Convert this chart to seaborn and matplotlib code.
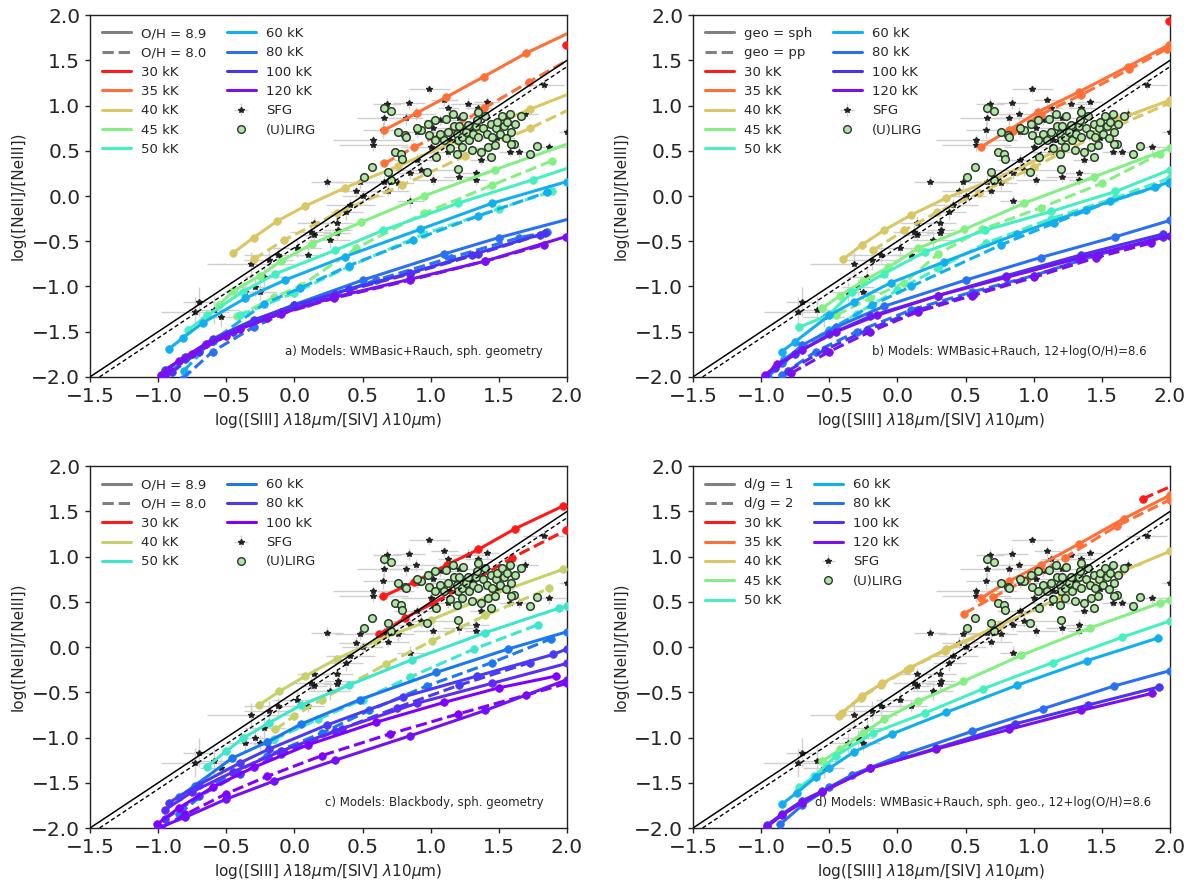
import matplotlib
matplotlib.use("Agg")
import matplotlib.pyplot as plt
from matplotlib.lines import Line2D
import seaborn as sns

# Style
sns.set_style("ticks")
plt.rcParams['font.family'] = ['DejaVu Sans']
plt.rcParams['mathtext.fontset'] = 'dejavusans'

# ---------------------------------------------------------------------------
# Observations (same in every panel)
sfg_x = [0.68, 0.84, 0.99, 1.10, 1.13, 1.27, 1.35, 1.41, 0.89, 0.66, 0.65, 0.58, 0.58, 0.82,
         0.90, 1.02, 1.00, 1.13, 0.90, 0.85, 0.93, 1.02, 0.76, 0.66, 0.48, 0.45, 0.69, 0.85,
         0.24, 0.50, 0.41, 0.38, 0.31, 0.32, 0.31, 0.26, 0.14, 0.12, 0.14, 0.02, 0.10, -0.12,
         -0.19, -0.32, -0.22, -0.29, -0.25, -0.36, -0.59, -0.73, -0.54, -0.70, 1.33, 1.21, 1.33,
         1.49, 1.65, 1.87, 1.83, 2.00, 1.41, 1.21, 1.07, 1.14, 1.37, 1.44, 1.58, 1.69]
sfg_y = [1.02, 1.03, 1.18, 1.06, 0.97, 1.02, 0.97, 1.04, 0.91, 0.86, 0.73, 0.62, 0.56, 0.86,
         0.71, 0.75, 0.54, 0.49, 0.40, 0.25, 0.29, 0.18, 0.14, 0.16, 0.15, 0.05, 0.06, -0.06,
         0.16, 0.00, -0.10, -0.18, -0.30, -0.38, -0.41, -0.49, -0.30, -0.40, -0.43, -0.58, -0.65, -0.65,
         -0.71, -0.75, -0.89, -1.01, -1.06, -1.06, -1.26, -1.28, -1.34, -1.17, 0.25, 0.21, 0.18,
         0.64, 0.49, 0.54, 1.23, 0.71, 0.53, 0.86, 0.84, 0.62, 0.40, 0.65, 0.49, 0.91]
sfg_xerr = [0.10, 0.12, 0.15, 0.10, 0.08, 0.12, 0.10, 0.09, 0.15, 0.20, 0.15, 0.30, 0.25, 0.12,
            0.18, 0.12, 0.22, 0.15, 0.17, 0.12, 0.25, 0.15, 0.12, 0.15, 0.18, 0.12, 0.15, 0.10,
            0.12, 0.15, 0.18, 0.12, 0.12, 0.10, 0.10, 0.15, 0.12, 0.15, 0.10, 0.18, 0.12, 0.25,
            0.18, 0.32, 0.15, 0.12, 0.12, 0.15, 0.18, 0.25, 0.15, 0.12, 0.10, 0.12, 0.08,
            0.12, 0.10, 0.12, 0.15, 0.06, 0.10, 0.10, 0.12, 0.10, 0.08, 0.10, 0.08, 0.10]
sfg_yerr = [0.06, 0.07, 0.05, 0.06, 0.06, 0.06, 0.05, 0.06, 0.07, 0.08, 0.09, 0.06, 0.06, 0.07,
            0.06, 0.07, 0.06, 0.06, 0.07, 0.06, 0.07, 0.06, 0.07, 0.06, 0.07, 0.06, 0.06, 0.07,
            0.06, 0.07, 0.07, 0.08, 0.07, 0.06, 0.07, 0.09, 0.07, 0.07, 0.06, 0.09, 0.07, 0.09,
            0.11, 0.13, 0.11, 0.09, 0.09, 0.11, 0.16, 0.16, 0.11, 0.16, 0.06, 0.06, 0.06,
            0.06, 0.06, 0.06, 0.06, 0.06, 0.05, 0.06, 0.06, 0.05, 0.06, 0.05, 0.05, 0.06]

lirg_x = [0.66, 0.71, 0.76, 0.81, 0.74, 0.78, 0.79, 0.57, 0.51, 0.69, 0.71, 0.97, 0.98, 0.99,
          1.03, 1.07, 1.10, 1.11, 1.13, 1.16, 1.17, 1.19, 1.20, 1.21, 1.23, 1.24, 1.26, 1.27,
          1.28, 1.30, 1.31, 1.33, 1.34, 1.35, 1.37, 1.38, 1.40, 1.41, 1.42, 1.44, 1.45, 1.47,
          1.48, 1.49, 1.51, 1.52, 1.54, 1.55, 1.56, 1.58, 1.59, 1.61, 1.62, 1.66, 1.14, 1.19,
          1.23, 1.44, 1.35, 0.93, 1.03, 1.04, 1.73, 1.78, 1.59, 1.20, 0.90, 0.82]
lirg_y = [0.97, 0.94, 0.71, 0.67, 0.49, 0.47, 0.41, 0.32, 0.21, 0.27, 0.18, 0.27, 0.80, 0.67,
          0.84, 0.69, 0.62, 0.85, 0.71, 0.91, 0.77, 0.69, 0.62, 0.77, 0.65, 0.89, 0.71, 0.78,
          0.62, 0.51, 0.69, 0.77, 0.84, 0.65, 0.49, 0.75, 0.88, 0.69, 0.54, 0.80, 0.65, 0.56,
          0.75, 0.82, 0.69, 0.88, 0.77, 0.64, 0.82, 0.91, 0.71, 0.58, 0.80, 0.88, 0.53, 0.47,
          0.54, 0.43, 0.93, 0.73, 0.62, 0.43, 0.46, 0.55, 0.57, 0.30, 0.75, 0.65]

# one-to-one reference lines
ref_solid = ([-1.5, 2.0], [-2.0, 1.5])
ref_dashed = ([-1.43, 2.0], [-2.0, 1.43])

# ---------------------------------------------------------------------------
# Panel a: WMBasic+Rauch, spherical; solid O/H=8.9, dashed O/H=8.0
a30_s = ([1.99, 2.3], [1.67, 1.9])
a35_s = ([0.66, 0.90, 1.11, 1.39, 1.70, 2.05], [0.73, 0.92, 1.09, 1.32, 1.58, 1.83])
a35_d = ([0.66, 0.88, 1.16, 1.39, 1.72, 2.05], [0.36, 0.54, 0.75, 0.97, 1.26, 1.54])
a40_s = ([-0.45, -0.30, -0.13, 0.08, 0.37, 0.76, 1.19, 1.73, 2.05], [-0.63, -0.46, -0.28, -0.11, 0.09, 0.33, 0.61, 0.96, 1.15])
a40_d = ([-0.30, -0.08, 0.31, 0.79, 1.25, 1.73, 2.05], [-0.70, -0.49, -0.19, 0.12, 0.44, 0.75, 0.98])
a45_s = ([-0.55, -0.45, -0.25, -0.10, 0.13, 0.49, 0.95, 1.47, 2.05], [-1.20, -1.05, -0.88, -0.72, -0.53, -0.29, 0.00, 0.29, 0.60])
a45_d = ([-0.42, -0.15, 0.05, 0.45, 0.95, 1.45, 1.89], [-1.33, -1.12, -0.99, -0.58, -0.19, 0.12, 0.39])
a50_s = ([-0.78, -0.64, -0.38, -0.14, 0.30, 0.65, 1.20, 1.75, 2.05], [-1.48, -1.32, -1.06, -0.86, -0.60, -0.38, -0.08, 0.18, 0.33])
a50_d = ([-0.40, 0.00, 0.40, 0.95, 1.50, 1.89], [-1.32, -1.07, -0.78, -0.42, -0.14, 0.05])
a60_s = ([-0.92, -0.82, -0.67, -0.36, -0.07, 0.37, 0.92, 1.45, 2.00], [-1.69, -1.57, -1.40, -1.13, -0.93, -0.67, -0.37, -0.08, 0.16])
a60_d = ([-0.81, -0.60, -0.22, 0.04, 0.40, 0.87, 1.35, 1.85], [-1.93, -1.60, -1.19, -1.02, -0.77, -0.49, -0.22, 0.04])
a80_s = ([-0.95, -0.80, -0.60, -0.30, 0.00, 0.50, 1.10, 1.50, 2.05], [-2.00, -1.80, -1.60, -1.38, -1.20, -0.93, -0.64, -0.46, -0.24])
a80_d = ([-0.82, -0.60, -0.30, 0.10, 0.60, 1.15, 1.65, 1.85], [-2.02, -1.72, -1.45, -1.18, -0.93, -0.68, -0.46, -0.40])
a100_s = ([-0.95, -0.80, -0.60, -0.30, 0.00, 0.40, 0.85, 1.30, 1.84], [-1.92, -1.78, -1.58, -1.37, -1.21, -1.03, -0.85, -0.65, -0.41])
a100_d = ([-0.90, -0.70, -0.45, -0.10, 0.30, 0.85, 1.35, 1.80], [-1.95, -1.72, -1.50, -1.28, -1.08, -0.86, -0.64, -0.43])
a120_s = ([-0.98, -0.85, -0.65, -0.40, -0.10, 0.29, 0.85, 1.40, 1.99], [-1.98, -1.82, -1.64, -1.47, -1.30, -1.12, -0.92, -0.72, -0.45])
a120_d = ([-0.95, -0.75, -0.50, -0.20, 0.29, 0.85, 1.40, 1.83], [-1.98, -1.75, -1.55, -1.35, -1.13, -0.93, -0.72, -0.54])

# Panel b: WMBasic+Rauch, O/H=8.6; solid sph, dashed pp
b30_s = ([1.99, 2.3], [1.93, 2.15])
b35_s = ([0.61, 0.82, 1.03, 1.33, 1.69, 1.99], [0.54, 0.73, 0.93, 1.15, 1.43, 1.67])
b35_d = ([0.85, 1.05, 1.35, 1.70, 1.98], [0.72, 0.90, 1.12, 1.40, 1.63])
b40_s = ([-0.40, -0.26, -0.10, 0.10, 0.36, 0.72, 1.17, 1.62, 2.00], [-0.70, -0.54, -0.38, -0.21, -0.02, 0.19, 0.50, 0.85, 1.06])
b40_d = ([-0.18, 0.05, 0.29, 0.60, 1.00, 1.50, 2.00], [-0.60, -0.38, -0.18, 0.03, 0.32, 0.70, 1.03])
b45_s = ([-0.55, -0.42, -0.25, -0.07, 0.15, 0.49, 0.93, 1.44, 2.00], [-1.24, -1.10, -0.94, -0.79, -0.58, -0.37, -0.08, 0.21, 0.53])
b45_d = ([-0.45, -0.20, 0.05, 0.30, 0.62, 1.05, 1.50, 1.93], [-1.32, -1.13, -0.96, -0.64, -0.37, -0.13, 0.14, 0.47])
b50_s = ([-0.72, -0.51, -0.33, -0.10, 0.20, 0.64, 1.13, 1.60, 2.00], [-1.45, -1.32, -1.06, -0.86, -0.62, -0.38, -0.17, 0.05, 0.29])
b50_d = ([-0.55, -0.30, 0.00, 0.30, 0.65, 1.13, 1.60, 2.00], [-1.55, -1.30, -1.04, -0.80, -0.52, -0.25, -0.02, 0.20])
b60_s = ([-0.85, -0.75, -0.50, -0.32, -0.05, 0.34, 0.88, 1.38, 1.89, 2.00], [-1.72, -1.61, -1.32, -1.17, -0.96, -0.73, -0.42, -0.15, 0.10, 0.16])
b60_d = ([-0.83, -0.50, -0.19, 0.10, 0.76, 1.15, 1.56, 1.99], [-1.80, -1.48, -1.21, -1.00, -0.54, -0.30, -0.06, 0.14])
b80_s = ([-0.95, -0.85, -0.70, -0.45, -0.10, 0.50, 1.05, 1.60, 2.00], [-2.00, -1.85, -1.65, -1.45, -1.22, -0.93, -0.68, -0.45, -0.27])
b80_d = ([-0.85, -0.60, -0.30, 0.10, 0.55, 1.00, 1.47, 1.86], [-1.98, -1.72, -1.50, -1.26, -1.06, -0.88, -0.65, -0.50])
b100_s = ([-0.97, -0.90, -0.75, -0.50, -0.20, 0.30, 0.80, 1.35, 1.95], [-2.00, -1.90, -1.75, -1.53, -1.33, -1.10, -0.88, -0.65, -0.42])
b100_d = ([-0.80, -0.53, -0.22, 0.15, 0.56, 1.00, 1.47, 1.95], [-1.93, -1.70, -1.48, -1.26, -1.08, -0.88, -0.65, -0.45])
b120_s = ([-0.97, -0.88, -0.70, -0.45, -0.15, 0.30, 0.80, 1.35, 2.00], [-1.98, -1.86, -1.70, -1.50, -1.32, -1.10, -0.90, -0.68, -0.44])
b120_d = ([-0.78, -0.50, -0.20, 0.15, 0.55, 1.00, 1.46, 1.86], [-1.96, -1.72, -1.50, -1.28, -1.10, -0.90, -0.68, -0.52])

# Panel c: Blackbody, spherical; solid O/H=8.9, dashed O/H=8.0
c30_s = ([0.65, 0.88, 1.12, 1.35, 1.62, 1.97], [0.56, 0.72, 0.91, 1.08, 1.31, 1.56])
c30_d = ([0.62, 0.81, 1.02, 1.30, 1.60, 1.99], [0.14, 0.32, 0.49, 0.72, 0.99, 1.29])
c40_s = ([-0.26, -0.11, 0.08, 0.31, 0.60, 1.00, 1.45, 1.97], [-0.64, -0.49, -0.32, -0.13, 0.07, 0.30, 0.58, 0.86])
c40_d = ([-0.14, 0.00, 0.20, 0.67, 1.01, 1.40, 1.87], [-0.91, -0.76, -0.58, -0.19, 0.07, 0.35, 0.65])
c50_s = ([-0.64, -0.50, -0.38, -0.19, 0.05, 0.40, 0.86, 1.40, 1.94, 2.00], [-1.32, -1.15, -1.01, -0.84, -0.64, -0.42, -0.14, 0.16, 0.43, 0.45])
c50_d = ([-0.15, 0.17, 0.50, 0.85, 1.32, 1.79], [-1.02, -0.80, -0.58, -0.33, -0.02, 0.25])
c60_s = ([-0.85, -0.73, -0.46, -0.20, 0.05, 0.48, 1.04, 1.57, 2.00], [-1.66, -1.53, -1.23, -1.05, -0.85, -0.58, -0.28, -0.02, 0.17])
c60_d = ([-0.85, -0.55, -0.20, 0.20, 0.55, 0.97, 1.45, 1.88], [-1.85, -1.48, -1.20, -0.95, -0.70, -0.43, -0.17, 0.09])
c80_s = ([-0.92, -0.70, -0.40, -0.19, 0.24, 0.80, 1.34, 1.90, 2.00], [-1.72, -1.52, -1.28, -1.13, -0.86, -0.55, -0.32, -0.08, -0.02])
c80_d = ([-0.95, -0.70, -0.40, -0.10, 0.30, 0.75, 1.21, 1.73], [-1.90, -1.65, -1.40, -1.18, -0.93, -0.67, -0.42, -0.17])
c100_s = ([-1.01, -0.85, -0.60, -0.30, 0.10, 0.60, 1.10, 1.50, 1.92], [-1.96, -1.78, -1.55, -1.33, -1.08, -0.83, -0.61, -0.45, -0.32])
c100_d = ([-0.98, -0.80, -0.50, -0.20, 0.20, 0.70, 1.20, 1.70, 2.00], [-2.00, -1.85, -1.62, -1.43, -1.20, -0.96, -0.74, -0.53, -0.40])
c90_s = ([-0.95, -0.75, -0.45, -0.10, 0.35, 0.90, 1.45, 2.00], [-1.80, -1.60, -1.38, -1.15, -0.90, -0.62, -0.40, -0.18])
c110_s = ([-1.00, -0.80, -0.50, -0.15, 0.30, 0.85, 1.40, 2.00], [-2.00, -1.88, -1.68, -1.48, -1.25, -0.98, -0.70, -0.36])

# Panel d: WMBasic+Rauch, spherical, O/H=8.6; solid d/g=1, dashed d/g=2
d30_d = ([1.80, 2.10], [1.64, 1.84])
d35_s = ([0.61, 0.82, 1.05, 1.33, 1.66, 2.00], [0.54, 0.73, 0.91, 1.14, 1.42, 1.68])
d35_d = ([0.49, 0.70, 0.95, 1.23, 1.61, 2.00], [0.37, 0.55, 0.75, 0.99, 1.34, 1.63])
d40_s = ([-0.41, -0.26, -0.11, 0.09, 0.36, 0.75, 1.20, 1.65, 2.00], [-0.73, -0.54, -0.40, -0.23, -0.02, 0.24, 0.55, 0.84, 1.06])
d40_d = ([-0.43, -0.27, -0.12, 0.07, 0.35, 0.74], [-0.76, -0.56, -0.42, -0.25, -0.04, 0.22])
d45_s = ([-0.55, -0.42, -0.25, -0.10, 0.15, 0.48, 0.91, 1.41, 1.93, 2.00], [-1.26, -1.13, -0.95, -0.80, -0.60, -0.38, -0.09, 0.21, 0.49, 0.52])
d50_s = ([-0.72, -0.61, -0.45, -0.18, 0.20, 0.63, 1.14, 1.65, 2.00], [-1.55, -1.43, -1.20, -0.95, -0.73, -0.46, -0.17, 0.11, 0.29])
d60_s = ([-0.85, -0.74, -0.60, -0.50, -0.32, -0.04, 0.36, 0.88, 1.39, 1.91], [-1.74, -1.61, -1.44, -1.34, -1.16, -0.96, -0.72, -0.42, -0.15, 0.10])
d80_s = ([-0.86, -0.70, -0.50, -0.33, 0.04, 0.55, 1.07, 1.59, 2.00], [-1.96, -1.75, -1.55, -1.41, -1.19, -0.93, -0.68, -0.43, -0.26])
d100_s = ([-0.96, -0.85, -0.70, -0.55, -0.20, 0.28, 0.86, 1.40, 1.92], [-1.97, -1.85, -1.70, -1.59, -1.34, -1.12, -0.85, -0.64, -0.44])
d120_s = ([-0.96, -0.85, -0.70, -0.55, -0.20, 0.28, 0.82, 1.35, 1.87], [-1.99, -1.86, -1.72, -1.60, -1.34, -1.13, -0.91, -0.70, -0.51])

# ---------------------------------------------------------------------------
colors = {30: '#ff1a1a', 35: '#ff7038', 40: '#d9c766', 45: '#84f084', 50: '#45f0c0',
          60: '#12aef0', 80: '#2a70f2', 100: '#4a34f2', 120: '#7a10f0'}
colors_bb = {30: '#ff1a1a', 40: '#c8d06a', 50: '#3de6cc', 60: '#1c78f0', 80: '#4a3af5',
             90: '#5a2cf5', 100: '#8000ff', 110: '#7410f5'}
lirg_face = '#b3e6a6'
lirg_edge = '#2b3a2b'

fig = plt.figure(figsize=(12, 8.91), dpi=100)
positions = [[0.075, 0.577, 0.3975, 0.406], [0.5775, 0.577, 0.3975, 0.406],
             [0.075, 0.0707, 0.3975, 0.406], [0.5775, 0.0707, 0.3975, 0.406]]
axes = [fig.add_axes(p) for p in positions]


def draw_curve(ax, xy, color, ls):
    sns.lineplot(x=xy[0], y=xy[1], ax=ax, color=color, linestyle=ls, linewidth=2.2,
                 marker='o', markersize=5.5, markeredgecolor=color, markeredgewidth=0.5,
                 sort=False, estimator=None, legend=False, zorder=3)


def draw_obs(ax):
    eb = ax.errorbar(sfg_x, sfg_y, xerr=sfg_xerr, yerr=sfg_yerr, fmt='*', color='#222222',
                     ms=4, ecolor='#cfcfcf', elinewidth=1.0, zorder=2)
    sns.scatterplot(x=lirg_x, y=lirg_y, ax=ax, marker='o', s=30, color=lirg_face,
                    edgecolor=lirg_edge, linewidth=1.1, zorder=4, legend=False)
    ax.plot(*ref_solid, color='k', lw=1.1, zorder=5)
    ax.plot(*ref_dashed, color='k', lw=1.0, ls='--', dashes=(3, 2), zorder=5)
    return eb


def make_legend(ax, eb, style_labels, temps, cmap):
    handles = [Line2D([], [], color='gray', lw=2.2),
               Line2D([], [], color='gray', lw=2.2, ls='--')]
    labels = list(style_labels)
    for t in temps:
        handles.append(Line2D([], [], color=cmap[t], lw=2.2))
        labels.append(f'{t} kK')
    handles.append(eb)
    labels.append('SFG')
    handles.append(Line2D([], [], marker='o', ls='none', mfc=lirg_face, mec=lirg_edge, ms=5.5))
    labels.append('(U)LIRG')
    ax.legend(handles, labels, ncol=2, loc='upper left', frameon=False, fontsize=9.5,
              handlelength=2.2, handletextpad=0.8, columnspacing=1.5, labelspacing=0.48,
              borderaxespad=0.5)


panels = [
    (axes[0], [(30, a30_s, '-'), (35, a35_s, '-'), (35, a35_d, '--'), (40, a40_s, '-'), (40, a40_d, '--'),
               (45, a45_s, '-'), (45, a45_d, '--'), (50, a50_s, '-'), (50, a50_d, '--'),
               (60, a60_s, '-'), (60, a60_d, '--'), (80, a80_s, '-'), (80, a80_d, '--'),
               (100, a100_s, '-'), (100, a100_d, '--'), (120, a120_s, '-'), (120, a120_d, '--')],
     colors, ['O/H = 8.9', 'O/H = 8.0'], [30, 35, 40, 45, 50, 60, 80, 100, 120],
     'a) Models: WMBasic+Rauch, sph. geometry', 0.95),
    (axes[1], [(30, b30_s, '-'), (35, b35_s, '-'), (35, b35_d, '--'), (40, b40_s, '-'), (40, b40_d, '--'),
               (45, b45_s, '-'), (45, b45_d, '--'), (50, b50_s, '-'), (50, b50_d, '--'),
               (60, b60_s, '-'), (60, b60_d, '--'), (80, b80_s, '-'), (80, b80_d, '--'),
               (100, b100_s, '-'), (100, b100_d, '--'), (120, b120_s, '-'), (120, b120_d, '--')],
     colors, ['geo = sph', 'geo = pp'], [30, 35, 40, 45, 50, 60, 80, 100, 120],
     'b) Models: WMBasic+Rauch, 12+log(O/H)=8.6', 0.95),
    (axes[2], [(30, c30_s, '-'), (30, c30_d, '--'), (40, c40_s, '-'), (40, c40_d, '--'),
               (50, c50_s, '-'), (50, c50_d, '--'), (60, c60_s, '-'), (60, c60_d, '--'),
               (80, c80_s, '-'), (80, c80_d, '--'), (90, c90_s, '-'), (100, c100_s, '-'),
               (100, c100_d, '--'), (110, c110_s, '-')],
     colors_bb, ['O/H = 8.9', 'O/H = 8.0'], [30, 40, 50, 60, 80, 100],
     'c) Models: Blackbody, sph. geometry', 0.95),
    (axes[3], [(30, d30_d, '--'), (35, d35_s, '-'), (35, d35_d, '--'), (40, d40_s, '-'), (40, d40_d, '--'),
               (45, d45_s, '-'), (50, d50_s, '-'), (60, d60_s, '-'), (80, d80_s, '-'),
               (100, d100_s, '-'), (120, d120_s, '-')],
     colors, ['d/g = 1', 'd/g = 2'], [30, 35, 40, 45, 50, 60, 80, 100, 120],
     'd) Models: WMBasic+Rauch, sph. geo., 12+log(O/H)=8.6', 0.96),
]

for ax, curves, cmap, style_labels, temps, note, note_x in panels:
    eb = draw_obs(ax)
    for t, xy, ls in curves:
        draw_curve(ax, xy, cmap[t], ls)
    ax.set_xlim(-1.5, 2.0)
    ax.set_ylim(-2.0, 2.0)
    ax.set_xticks([-1.5, -1.0, -0.5, 0.0, 0.5, 1.0, 1.5, 2.0])
    ax.set_yticks([-2.0, -1.5, -1.0, -0.5, 0.0, 0.5, 1.0, 1.5, 2.0])
    ax.tick_params(labelsize=14.5, length=3.5, width=1, direction='out')
    ax.set_xlabel(r'log([SIII] $\lambda18\mu$m/[SIV] $\lambda10\mu$m)', fontsize=11, labelpad=4)
    ax.set_ylabel('log([NeII]/[NeIII])', fontsize=11, labelpad=4)
    for sp in ax.spines.values():
        sp.set_color('#222222')
        sp.set_linewidth(1.0)
    ax.text(note_x, 0.07, note, transform=ax.transAxes, ha='right', va='center', fontsize=8.5)
    make_legend(ax, eb, style_labels, temps, cmap)

fig.savefig('out.png', dpi=100)
